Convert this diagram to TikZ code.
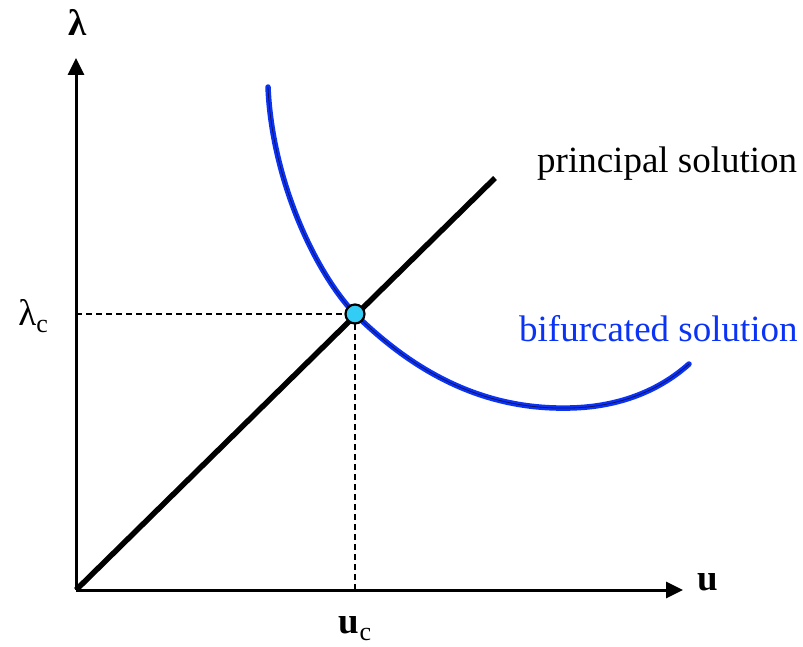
\documentclass[tikz,border=0pt]{standalone}
\usepackage{fontspec}
\setmainfont{Liberation Serif}
\usepackage{tikz}
\usepackage{xcolor}
\usetikzlibrary{arrows.meta, positioning}
\definecolor{Bif_Blue}{HTML}{0A33F5}
\definecolor{Bif_Core}{HTML}{101060}
\definecolor{Crit_Cyan}{HTML}{33CCF5}

\begin{document}
\begin{tikzpicture}[x=1pt, y=-1pt,
  axis/.style={line width=3pt, -{Triangle[length=17pt, width=16pt]}},
  principal/.style={line width=5.5pt, black},
  bifurc/.style={line width=5.5pt, Bif_Blue, line cap=round},
  bifcore/.style={line width=0.8pt, Bif_Core, line cap=round},
  guide/.style={line width=1.6pt, dash pattern=on 6pt off 4pt},
  critpt/.style={circle, draw=black, line width=2.2pt, fill=Crit_Cyan, minimum size=19pt, inner sep=0pt},
  lbl/.style={font=\fontsize{37}{40}\selectfont, inner sep=0pt},
]
\useasboundingbox (0,0) rectangle (803,647);

% --- axes ---
\coordinate (O) at (76,590);
\coordinate (ytip) at (76,58);
\coordinate (xtip) at (683,590);
\draw[axis] (O) -- (ytip);
\draw[axis] (O) -- (xtip);
\node[lbl] (lam) at (78,22) {\textbf{λ}};
\node[lbl] (u) at (708,582) {\textbf{u}};

% --- critical point and guides ---
\coordinate (C) at (355,314);
\coordinate (lamc) at (76,314);
\coordinate (uc) at (355,590);
\draw[guide] (lamc) -- (C);
\draw[guide] (C) -- (uc);
\node[lbl, anchor=east] (lamclbl) at (48,316) {λ\raisebox{-0.4ex}{\fontsize{26}{28}\selectfont c}};
\node[lbl] (uclbl) at (355,629) {\textbf{u}\raisebox{-0.4ex}{\fontsize{26}{28}\selectfont c}};

% --- principal solution ---
\coordinate (Pend) at (495,178);
\draw[principal] (O) -- (Pend);
\node[lbl, anchor=west] (plbl) at (537,164) {principal solution};

% --- bifurcated solution ---
\coordinate (B0) at (268,87);
\coordinate (Bmin) at (570,408);
\coordinate (B1) at (689,364);
\draw[bifurc] (B0) .. controls (272,180) and (315,272) .. (C)
  .. controls (420,378) and (490,410) .. (Bmin)
  .. controls (620,407) and (660,390) .. (B1);
\draw[bifcore] (B0) .. controls (272,180) and (315,272) .. (C)
  .. controls (420,378) and (490,410) .. (Bmin)
  .. controls (620,407) and (660,390) .. (B1);
\node[lbl, anchor=west, text=Bif_Blue] (blbl) at (519,329) {bifurcated solution};

\node[critpt] (crit) at (C) {};

\end{tikzpicture}
\end{document}
